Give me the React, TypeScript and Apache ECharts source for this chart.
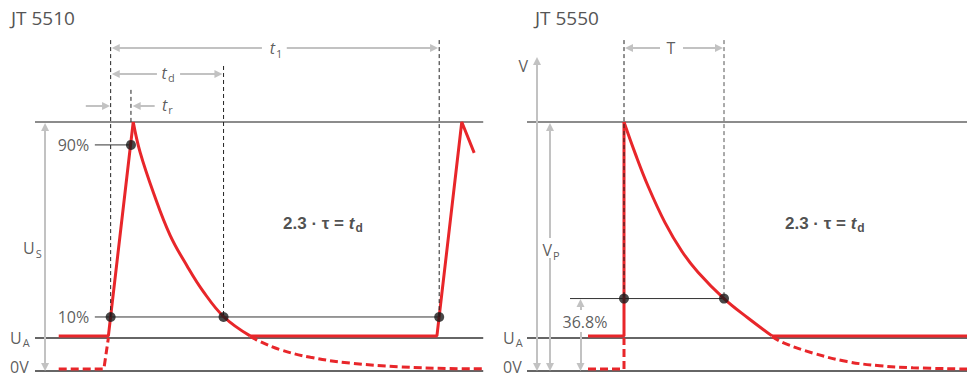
import React, { useEffect, useRef } from "react";
import * as echarts from "echarts";

type P = [number, number];

// ---------- Axis ranges (time units: left t_d = 10, right T = 10; voltage: % of peak, 0V = 0)
const X_RANGE_L: P = [-9.8, 33.6];
const X_RANGE_R: P = [-13.4, 34.3];
const Y_RANGE: P = [-1.6, 149];

// ---------- Levels
const PEAK = 100;
const UA = 13.3;
const ZERO = 0;
const P10 = 21.7;
const P90 = 90.8;
const P368 = 29.1;

// ---------- Left panel (JT 5510) times
const T_RISE = 0;
const T_90 = 1.8;
const T_D = 10;
const T_1 = 29.1;

// Red trace, solid, left
const riseL: P[] = [[-4.6, 14.1], [-0.2, 14.1], [2.0, 100]];
const decayL: P[] = [[2.0, 100], [2.6, 88.0], [3.8, 71.5], [5.26, 54.6], [6.77, 42.2], [8.18, 32.1], [10.04, 21.7], [12.35, 14.1]];
const flatL: P[] = [[12.35, 14.1], [28.9, 14.1], [31.1, 100], [32.2, 87.6]];
// Red trace, dashed, left
const dashStartL: P[] = [[-4.6, 0.8], [-0.6, 0.8], [-0.2, 13.3]];
const dashTailL: P[] = [[12.35, 13.9], [13.2, 11.9], [15.0, 8.6], [17.7, 5.5], [21.2, 3.2], [25.6, 1.7], [30.0, 1.0], [33.0, 0.9]];

// ---------- Right panel (JT 5550) times
const T_START_R = 0;
const T_TAU = 10;

const riseR: P[] = [[-3.6, 14.1], [0, 14.1], [0, 100]];
const decayR: P[] = [[0, 100], [1.1, 87.6], [2.4, 74.3], [4.1, 59.6], [5.8, 48.0], [7.4, 39.7], [10, 29.1], [12.4, 21.3], [14.8, 14.1]];
const flatR: P[] = [[14.8, 14.1], [34.3, 14.1]];
const dashStartR: P[] = [[-3.6, 0.8], [0, 0.8], [0, 13.3]];
const dashTailR: P[] = [[14.8, 13.9], [15.9, 11.4], [18.9, 7.2], [22.3, 3.8], [25.6, 2.1], [28.9, 1.3], [34.3, 0.8]];

// ---------- Styling
const RED = "#e8262a";
const GRAY = "#c2c2c2";
const FONT = "'Open Sans', 'Noto Sans', sans-serif";
const BOLD_FONT = "'Liberation Sans', Arial, sans-serif";

const GRID_L = { left: 0, top: 0, width: 490, height: 375 };
const GRID_R = { left: 490, top: 0, width: 477, height: 375 };
const SX_L = GRID_L.width / (X_RANGE_L[1] - X_RANGE_L[0]);
const SX_R = GRID_R.width / (X_RANGE_R[1] - X_RANGE_R[0]);
const SY = 375 / (Y_RANGE[1] - Y_RANGE[0]);

const rich: any = {
  n: { fontFamily: FONT, fontSize: 16, color: "#333" },
  u: { fontFamily: FONT, fontSize: 16, color: "#333" },
  i: { fontFamily: FONT, fontSize: 16, fontStyle: "italic", color: "#333" },
  s: { fontFamily: FONT, fontSize: 11, color: "#333", padding: [10, 0, 0, 1], verticalAlign: "bottom" },
  bd: { fontFamily: BOLD_FONT, fontSize: 17, fontWeight: "bold", color: "#222" },
  bdi: { fontFamily: BOLD_FONT, fontSize: 17, fontWeight: "bold", fontStyle: "italic", color: "#222" },
  bds: { fontFamily: BOLD_FONT, fontSize: 12, fontWeight: "bold", color: "#222", padding: [10, 0, 0, 1], verticalAlign: "bottom" },
};

function txt(pos: P, formatter: string, align: string = "left") {
  return {
    value: pos,
    label: { show: true, formatter, align, verticalAlign: "middle", position: [0, 0], rich },
  };
}

function arrow(from: P, to: P, sx: number, both: boolean, head = 8) {
  const dx = to[0] - from[0];
  const dy = to[1] - from[1];
  const len = Math.hypot(dx * sx, dy * SY) || 1;
  const k = head / 2 / len;
  const end: P = [to[0] - dx * k, to[1] - dy * k];
  const start: P = both ? [from[0] + dx * k, from[1] + dy * k] : from;
  return { coords: [start, end] };
}

function seg(gi: number, data: P[], color: string, width: number, type: any = "solid", smooth: any = false, z = 2) {
  return {
    type: "line",
    xAxisIndex: gi,
    yAxisIndex: gi,
    data,
    showSymbol: false,
    symbol: "none",
    smooth,
    silent: true,
    z,
    lineStyle: { color, width, type, cap: "butt" },
  };
}

function arrowSeries(gi: number, data: any[], both: boolean) {
  return {
    type: "lines",
    coordinateSystem: "cartesian2d",
    xAxisIndex: gi,
    yAxisIndex: gi,
    silent: true,
    z: 3,
    symbol: [both ? "triangle" : "none", "triangle"],
    symbolSize: 8,
    lineStyle: { color: GRAY, width: 2, opacity: 1, curveness: 0 },
    itemStyle: { color: GRAY },
    data,
  };
}

const App: React.FC = () => {
  const ref = useRef<HTMLDivElement>(null);

  useEffect(() => {
    if (!ref.current) return;
    const chart = echarts.init(ref.current, undefined, { renderer: "svg" });

    const lx0 = -6.7, lx1 = 33.0; // left panel reference line extent
    const rx0 = -9.7, rx1 = 34.3; // right panel reference line extent

    const series: any[] = [
      // ---- left: reference lines
      seg(0, [[lx0, PEAK], [lx1, PEAK]], "#666", 1.5, "solid", false, 1),
      seg(0, [[lx0, UA], [lx1, UA]], "#333", 1.5, "solid", false, 1),
      seg(0, [[lx0, ZERO], [lx1, ZERO]], "#333", 1.5, "solid", false, 1),
      seg(0, [[-1.4, P10], [T_1, P10]], "#333", 1, "solid", false, 1),
      seg(0, [[-1.4, P90], [T_90, P90]], "#333", 1, "solid", false, 1),
      // ---- left: red trace
      seg(0, riseL, RED, 3),
      seg(0, decayL, RED, 3, "solid", 0.4),
      seg(0, flatL, RED, 3),
      seg(0, dashStartL, RED, 3, [8, 4]),
      seg(0, dashTailL, RED, 3, [8, 4], 0.4),
      // ---- left: dashed verticals
      seg(0, [[T_RISE, 132.9], [T_RISE, P10]], "#222", 1, [4, 3], false, 3),
      seg(0, [[T_90, 112.9], [T_90, PEAK]], "#222", 1, [4, 3], false, 3),
      seg(0, [[T_D, 122.5], [T_D, P10]], "#222", 1, [4, 3], false, 3),
      seg(0, [[T_1, 132.9], [T_1, P10]], "#222", 1, [4, 3], false, 3),
      // ---- left: arrows
      arrowSeries(0, [
        arrow([13.4, 129.7], [0.1, 129.7], SX_L, false),
        arrow([15.6, 129.7], [T_1 - 0.1, 129.7], SX_L, false),
        arrow([4.1, 119.3], [0.1, 119.3], SX_L, false),
        arrow([6.15, 119.3], [T_D - 0.1, 119.3], SX_L, false),
        arrow([-2.2, 106.4], [-0.05, 106.4], SX_L, false),
        arrow([3.9, 106.4], [1.95, 106.4], SX_L, false),
      ], false),
      arrowSeries(0, [arrow([-5.81, 99.6], [-5.81, 0], SX_L, true)], true),
      // ---- left: dots
      {
        type: "scatter", xAxisIndex: 0, yAxisIndex: 0, silent: true, z: 4,
        symbolSize: 10, itemStyle: { color: "#1a1a1a" },
        data: [[T_RISE, P10], [T_D, P10], [T_1, P10], [T_90, P90]],
      },
      // ---- left: texts
      {
        type: "scatter", xAxisIndex: 0, yAxisIndex: 0, silent: true, z: 5, clip: false,
        symbolSize: 0,
        data: [
          txt([-1.9, P90], "{n|90%}", "right"),
          txt([-1.9, P10], "{n|10%}", "right"),
          txt([-7.76, 49.4], "{u|U}{s|S}", "left"),
          txt([-8.91, UA], "{u|U}{s|A}", "left"),
          txt([-8.91, 1.8], "{u|0V}", "left"),
          txt([14.65, 129.7], "{i|t}{s|1}", "center"),
          txt([5.09, 119.7], "{i|t}{s|d}", "center"),
          txt([4.55, 107.0], "{i|t}{s|r}", "left"),
          txt([15.27, 59.4], "{bd|2.3 · τ = }{bdi|t}{bds|d}", "left"),
        ],
      },

      // ---- right: reference lines
      seg(1, [[rx0, PEAK], [rx1, PEAK]], "#666", 1.5, "solid", false, 1),
      seg(1, [[rx0, UA], [rx1, UA]], "#333", 1.5, "solid", false, 1),
      seg(1, [[rx0, ZERO], [rx1, ZERO]], "#333", 1.5, "solid", false, 1),
      seg(1, [[-5.4, P368], [T_TAU, P368]], "#333", 1, "solid", false, 1),
      // ---- right: red trace
      seg(1, riseR, RED, 3),
      seg(1, decayR, RED, 3, "solid", 0.4),
      seg(1, flatR, RED, 3),
      seg(1, dashStartR, RED, 3, [8, 4]),
      seg(1, dashTailR, RED, 3, [8, 4], 0.4),
      // ---- right: dashed verticals
      seg(1, [[T_START_R, 132.9], [T_START_R, P368]], "#222", 1, [4, 3], false, 3),
      seg(1, [[T_TAU, 132.9], [T_TAU, P368]], "#555", 1, [4, 3], false, 3),
      // ---- right: arrows
      arrowSeries(1, [
        arrow([3.6, 129.7], [0.1, 129.7], SX_R, false),
        arrow([5.9, 129.7], [T_TAU - 0.1, 129.7], SX_R, false),
        arrow([-7.4, 53.4], [-7.4, 99.6], SX_R, false),
        arrow([-7.4, 45.4], [-7.4, 0], SX_R, false),
        arrow([-4.35, 24.5], [-4.35, 28.9], SX_R, false),
        arrow([-4.35, 15.7], [-4.35, 0], SX_R, false),
      ], false),
      arrowSeries(1, [arrow([-8.7, 126.1], [-8.7, 0], SX_R, true)], true),
      // ---- right: dots
      {
        type: "scatter", xAxisIndex: 1, yAxisIndex: 1, silent: true, z: 4,
        symbolSize: 10, itemStyle: { color: "#1a1a1a" },
        data: [[T_START_R, P368], [T_TAU, P368]],
      },
      // ---- right: texts
      {
        type: "scatter", xAxisIndex: 1, yAxisIndex: 1, silent: true, z: 5, clip: false,
        symbolSize: 0,
        data: [
          txt([-9.6, 122.5], "{u|V}", "right"),
          txt([-7.3, 48.6], "{u|V}{s|P}", "center"),
          txt([-3.9, 19.7], "{n|36.8%}", "center"),
          txt([-12.1, UA], "{u|U}{s|A}", "left"),
          txt([-12.1, 1.8], "{u|0V}", "left"),
          txt([4.7, 129.7], "{u|T}", "center"),
          txt([16.1, 59.4], "{bd|2.3 · τ = }{bdi|t}{bds|d}", "left"),
        ],
      },
    ];

    chart.setOption({
      animation: false,
      backgroundColor: "#fff",
      title: [
        { text: "JT 5510", left: 11, top: 8, padding: 0, textStyle: { fontFamily: FONT, fontSize: 19, fontWeight: "normal", color: "#555" } },
        { text: "JT 5550", left: 535, top: 8, padding: 0, textStyle: { fontFamily: FONT, fontSize: 19, fontWeight: "normal", color: "#555" } },
      ],
      grid: [GRID_L, GRID_R],
      xAxis: [
        { type: "value", gridIndex: 0, min: X_RANGE_L[0], max: X_RANGE_L[1], show: false },
        { type: "value", gridIndex: 1, min: X_RANGE_R[0], max: X_RANGE_R[1], show: false },
      ],
      yAxis: [
        { type: "value", gridIndex: 0, min: Y_RANGE[0], max: Y_RANGE[1], show: false },
        { type: "value", gridIndex: 1, min: Y_RANGE[0], max: Y_RANGE[1], show: false },
      ],
      series,
    });

    return () => chart.dispose();
  }, []);

  return (
    <div
      ref={ref}
      style={{ position: "fixed", left: 0, top: 0, width: 967, height: 375, background: "#fff" }}
    />
  );
};

export default App;
